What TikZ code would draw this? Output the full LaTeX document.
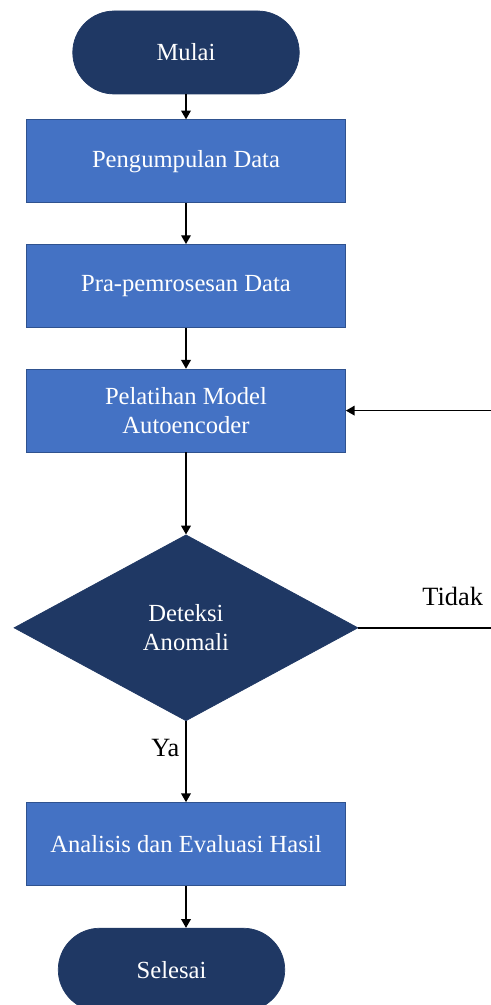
\documentclass[tikz,border=0pt]{standalone}
\usepackage{fontspec}
\setmainfont{Liberation Serif}
\usepackage{tikz}
\definecolor{navy}{RGB}{31,56,100}
\definecolor{boxblue}{RGB}{68,114,196}
\definecolor{boxline}{RGB}{47,82,143}
\tikzset{term node/.style={rectangle,rounded corners=0.83cm,fill=navy,draw=navy,text=white,minimum width=4.53cm,minimum height=1.66cm,font=\fontsize{14}{16.5}\selectfont},
process node/.style={rectangle,fill=boxblue,draw=boxline,text=white,minimum width=6.38cm,minimum height=1.66cm,align=center,font=\fontsize{14}{16.5}\selectfont},
decision node/.style={diamond,fill=navy,draw=navy,text=white,minimum width=6.88cm,minimum height=3.72cm,inner sep=0pt,align=center,font=\fontsize{14}{16.5}\selectfont},
side label/.style={text=black,font=\fontsize{15}{18}\selectfont},
flow/.style={draw,thick,-{Triangle[length=5pt,width=5.5pt]}},
}
\usetikzlibrary{positioning,shapes.geometric,arrows.meta}

\begin{document}
\begin{tikzpicture}
			
			%%
			\useasboundingbox (0,0) rectangle (9.82,-20.1);
			\node[term node] (1) at (3.72,-1.05) {Mulai};
			\node[process node] (2) [below = 0.5cm of 1] {Pengumpulan Data};
			\node[process node] (3) [below = 0.82cm of 2] {Pra-pemrosesan Data};
			\node[process node] (4) [below = 0.82cm of 3] {Pelatihan Model\\Autoencoder};
			\node[decision node] (5) [below = 1.64cm of 4] {Deteksi\\Anomali};
			\node[process node] (6) [below = 1.62cm of 5] {Analisis dan Evaluasi Hasil};
			\node[term node] (7) [below = 0.84cm of 6, xshift=-0.29cm] {Selesai};
			\coordinate (back) at (9.9,0);
			
			\path[thick,-{Triangle[length=5pt,width=5.5pt]}]
			(1) edge node {} (2)
			(2) edge node {} (3)
			(3) edge node {} (4)
			(4) edge node {} (5)
			(5) edge node[side label,left,pos=0.33] {Ya} (6)
			;
			\draw[flow] (6.south) -- (6.south |- 7.north);
			%(5) back to (4)
			\draw[flow] (5.east) -- node[side label,pos=0.69,yshift=0.62cm] {Tidak} (5.east -| back) |- (4.east);
			\end{tikzpicture}
\end{document}
